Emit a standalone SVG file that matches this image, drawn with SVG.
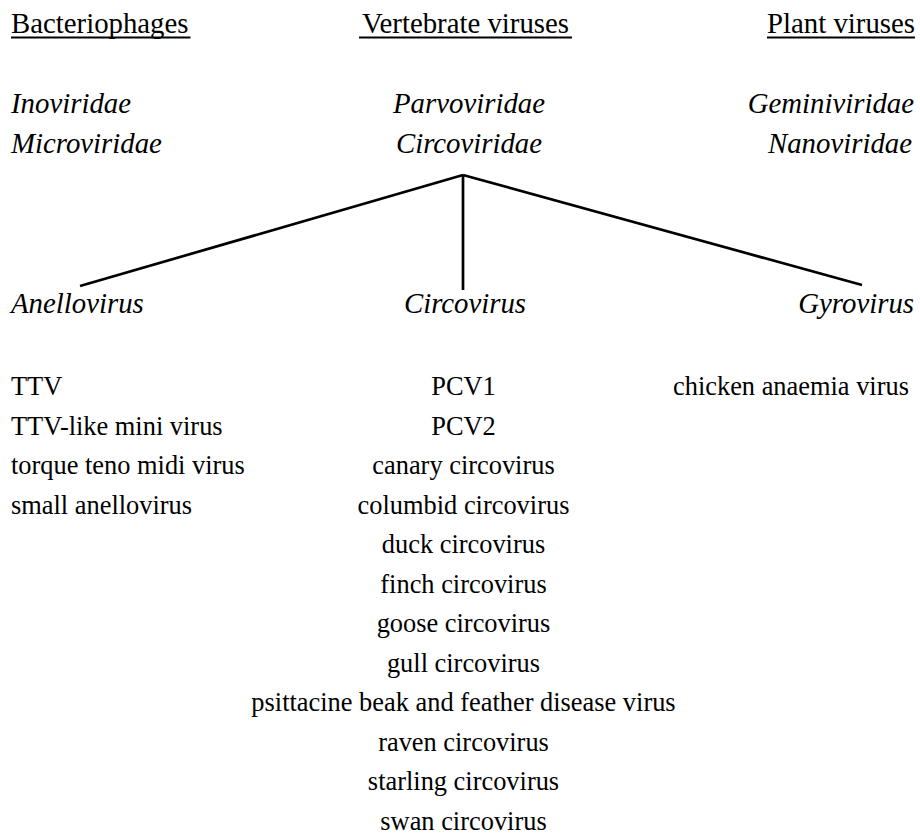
<svg xmlns="http://www.w3.org/2000/svg" width="920" height="837" viewBox="0 0 920 837">
<style>
text{font-family:"Liberation Serif","Times New Roman",serif;fill:#000}
.h{font-size:28.8px}
.f{font-size:28.8px;font-style:italic}
.l{font-size:26.4px}
.m{text-anchor:middle}
.e{text-anchor:end}
.u{stroke:#000;stroke-width:2}
.c{stroke:#000;stroke-width:2.7;fill:none;stroke-linecap:butt}
</style>
<rect width="920" height="837" fill="#fff"/>
<g id="header-bacteriophages">
<text class="h" x="11" y="33">Bacteriophages</text>
<line class="u" x1="11" y1="37.5" x2="190.5" y2="37.5"/>
</g>
<g id="header-vertebrate">
<text class="h m" x="465.5" y="33">Vertebrate viruses</text>
<line class="u" x1="359" y1="37.5" x2="572" y2="37.5"/>
</g>
<g id="header-plant">
<text class="h e" x="915" y="33">Plant viruses</text>
<line class="u" x1="767" y1="37.5" x2="915" y2="37.5"/>
</g>
<g id="families-bacteriophages">
<text class="f" x="11" y="113">Inoviridae</text>
<text class="f" x="11" y="153">Microviridae</text>
</g>
<g id="family-parvoviridae"><text class="f m" x="469" y="113">Parvoviridae</text></g>
<g id="family-circoviridae"><text class="f m" x="469" y="153">Circoviridae</text></g>
<g id="families-plant">
<text class="f e" x="914" y="113">Geminiviridae</text>
<text class="f e" x="912" y="153">Nanoviridae</text>
</g>
<g id="connectors">
<line class="c" x1="463" y1="175" x2="80" y2="286"/>
<line class="c" x1="463" y1="175" x2="463" y2="290"/>
<line class="c" x1="463" y1="175" x2="862" y2="285"/>
</g>
<g id="genus-anellovirus">
<text class="f" x="11" y="313">Anellovirus</text>
<g class="l">
<text class="l" x="11" y="395">TTV</text>
<text class="l" x="11" y="434.5">TTV-like mini virus</text>
<text class="l" x="11" y="474">torque teno midi virus</text>
<text class="l" x="11" y="513.5">small anellovirus</text>
</g>
</g>
<g id="genus-circovirus">
<text class="f m" x="465" y="313">Circovirus</text>
<text class="l m" x="463.5" y="395">PCV1</text>
<text class="l m" x="463.5" y="434.5">PCV2</text>
<text class="l m" x="463.5" y="474">canary circovirus</text>
<text class="l m" x="463.5" y="513.5">columbid circovirus</text>
<text class="l m" x="463.5" y="553">duck circovirus</text>
<text class="l m" x="463.5" y="592.5">finch circovirus</text>
<text class="l m" x="463.5" y="632">goose circovirus</text>
<text class="l m" x="463.5" y="671.5">gull circovirus</text>
<text class="l m" x="463.5" y="711">psittacine beak and feather disease virus</text>
<text class="l m" x="463.5" y="750.5">raven circovirus</text>
<text class="l m" x="463.5" y="790">starling circovirus</text>
<text class="l m" x="463.5" y="829.5">swan circovirus</text>
</g>
<g id="genus-gyrovirus">
<text class="f e" x="914" y="313">Gyrovirus</text>
<text class="l" x="673" y="395">chicken anaemia virus</text>
</g>
</svg>
